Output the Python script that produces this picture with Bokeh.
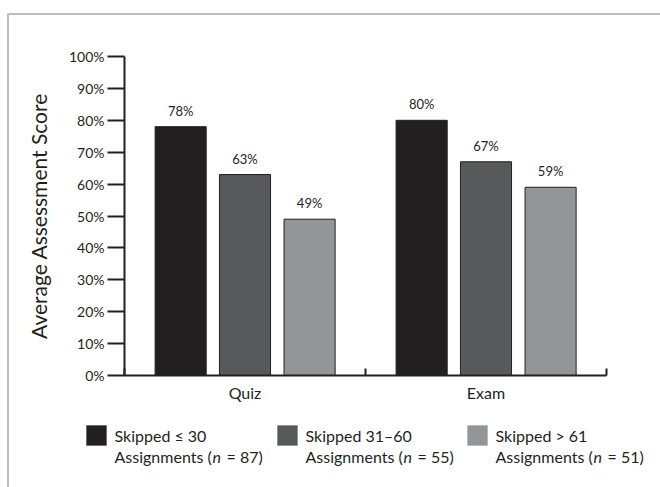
from bokeh.plotting import figure
from bokeh.models import (Range1d, LinearAxis, FixedTicker, ColumnDataSource, Label,
                          BoxAnnotation)
from bokeh.core.properties import value
from bokeh.transform import dodge
from bokeh.embed import file_html
from bokeh.resources import INLINE

# ---- data ----
categories = ["Quiz", "Exam"]
series_names = ["Skipped \u2264 30", "Skipped 31\u201360", "Skipped > 61"]
series_n = [87, 55, 51]
skip_low = [78, 80]
skip_mid = [63, 67]
skip_high = [49, 59]
y_ticks = [0, 10, 20, 30, 40, 50, 60, 70, 80, 90, 100]
y_tick_labels = ["0%", "10%", "20%", "30%", "40%", "50%", "60%", "70%", "80%", "90%", "100%"]

# ---- layout / style ----
FONT = "Lato"
INK = "#231f20"
colors = ["#231f20", "#58595b", "#939598"]
W, H = 660, 487
AX_LEFT, AX_RIGHT, AX_TOP, AX_BOTTOM = 124, 606, 56, 375   # axis box in canvas px
ncat = len(categories)
cat_px = (AX_RIGHT - AX_LEFT) / ncat
unit_px = (AX_BOTTOM - AX_TOP) / 100.0

p = figure(width=W, height=H, output_backend="svg", toolbar_location=None,
           x_range=Range1d(-AX_LEFT / cat_px, (W - AX_LEFT) / cat_px),
           y_range=Range1d(-(H - AX_BOTTOM) / unit_px, AX_BOTTOM / unit_px),
           x_axis_type=None, y_axis_type=None,
           min_border=0, min_border_left=0, min_border_right=0,
           min_border_top=0, min_border_bottom=0)
p.outline_line_color = None
p.xgrid.visible = False
p.ygrid.visible = False
p.background_fill_color = "white"
p.border_fill_color = "white"

# y axis
yax = LinearAxis(ticker=FixedTicker(ticks=y_ticks, minor_ticks=[]), fixed_location=0,
                 bounds=(0, 100))
yax.major_label_overrides = {t: l for t, l in zip(y_ticks, y_tick_labels)}
yax.axis_label = "Average Assessment Score"
yax.axis_label_text_font = FONT
yax.axis_label_text_font_size = "21px"
yax.axis_label_text_font_style = "normal"
yax.axis_label_text_color = INK
yax.axis_label_standoff = 15
yax.major_label_text_font = FONT
yax.major_label_text_font_size = "14px"
yax.major_label_text_color = INK
yax.major_label_standoff = 3
yax.major_tick_out = 17
yax.major_tick_in = 0
yax.major_tick_line_width = 2
yax.major_tick_line_color = INK
yax.axis_line_width = 2
yax.axis_line_color = INK
p.add_layout(yax, "left")

# x axis: labels at category centres, ticks at category boundaries
centers = [i + 0.5 for i in range(ncat)]
bounds = [i for i in range(ncat + 1)]
xax = LinearAxis(ticker=FixedTicker(ticks=centers, minor_ticks=bounds), fixed_location=0,
                 bounds=(0, ncat))
xax.major_label_overrides = {c: n for c, n in zip(centers, categories)}
xax.major_label_text_font = FONT
xax.major_label_text_font_size = "16px"
xax.major_label_text_color = INK
xax.major_label_standoff = 7
xax.major_tick_in = 0
xax.major_tick_out = 0
xax.minor_tick_in = 7
xax.minor_tick_out = 0
xax.minor_tick_line_width = 2
xax.minor_tick_line_color = INK
xax.axis_line_width = 2
xax.axis_line_color = INK
p.add_layout(xax, "below")

src = ColumnDataSource(dict(x=centers, low=skip_low, mid=skip_mid, high=skip_high,
                            low_t=[f"{v}%" for v in skip_low],
                            mid_t=[f"{v}%" for v in skip_mid],
                            high_t=[f"{v}%" for v in skip_high]))
offsets = [-0.267, 0.0, 0.268]
BW = 0.212
for key, off, col in zip(["low", "mid", "high"], offsets, colors):
    p.vbar(x=dodge("x", off), top=key, width=BW, bottom=0, source=src,
           fill_color=col, line_color=INK, line_width=1)
    p.text(x=dodge("x", off), y=key, text=key + "_t", source=src,
           text_align="center", text_baseline="middle", y_offset=-16,
           text_font=value(FONT), text_font_size="13px", text_color=INK)

# outer frame line (runs off the right and bottom edges)
p.add_layout(BoxAnnotation(left=7.5, right=W + 50, top=H - 13.5, bottom=-50,
                           left_units="screen", right_units="screen",
                           top_units="screen", bottom_units="screen",
                           fill_color=None, fill_alpha=0, line_color=INK, line_width=2))

# legend below the chart (screen px from bottom-left)
leg_left = [86, 277, 467]
SQ_TOP, SQ = H - 425, 20
for i, (name, n, col) in enumerate(zip(series_names, series_n, colors)):
    x0 = leg_left[i]
    p.add_layout(BoxAnnotation(left=x0, right=x0 + SQ, top=SQ_TOP, bottom=SQ_TOP - SQ,
                               left_units="screen", right_units="screen",
                               top_units="screen", bottom_units="screen",
                               fill_color=col, fill_alpha=1, line_color=col, line_width=1))
    tx = x0 + 28
    common = dict(x_units="screen", y_units="screen", text_font=FONT,
                  text_font_size="16px", text_color=INK, text_baseline="middle")
    p.add_layout(Label(x=tx, y=H - 435, text=name, **common))
    p.add_layout(Label(x=tx, y=H - 456, text="Assignments (", **common))
    p.add_layout(Label(x=tx + 98, y=H - 456, text="n", text_font_style="italic", **common))
    p.add_layout(Label(x=tx + 112, y=H - 456, text=f"= {n})", **common))

open("out.html", "w").write(file_html(p, INLINE))
